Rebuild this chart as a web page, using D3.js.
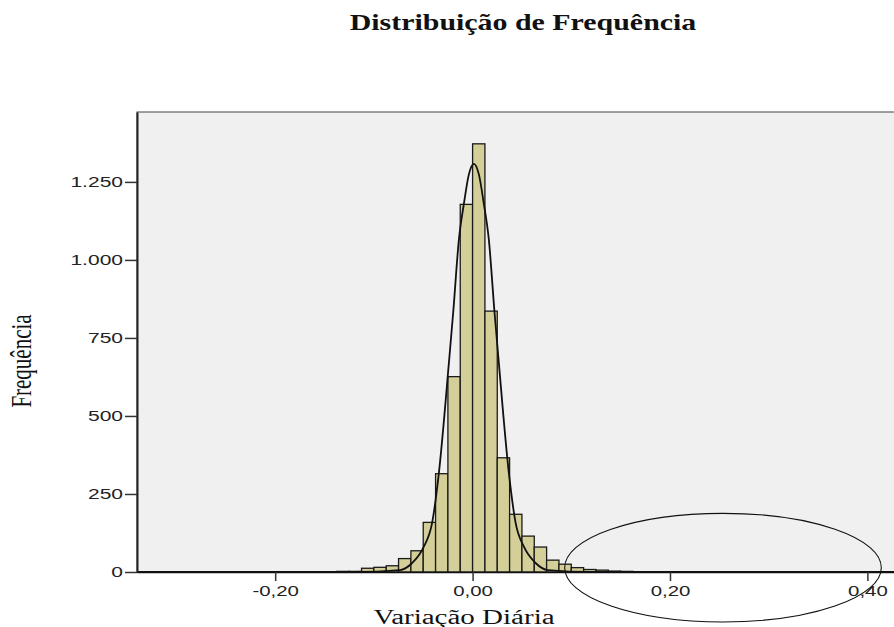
<!DOCTYPE html>
<html>
<head>
<meta charset="utf-8">
<script src="https://cdn.jsdelivr.net/npm/d3@7"></script>
<style>
  body { margin: 0; background: #fff; }
  .tick text { font-family: "Liberation Sans", Arial, sans-serif; font-size: 15px; fill: #222; }
</style>
</head>
<body>
<svg class="chart"></svg>
<script>
// histogram bins (lower edge) and counts
var binLower = [-0.2625, -0.2375, -0.175, -0.1625, -0.1375, -0.125, -0.1125, -0.1, -0.0875, -0.075,
                -0.0625, -0.05, -0.0375, -0.025, -0.0125, 0, 0.0125, 0.025, 0.0375, 0.05,
                0.0625, 0.075, 0.0875, 0.1, 0.1125, 0.125, 0.1375, 0.15, 0.1625, 0.175,
                0.225, 0.2375, 0.2875, 0.3];
var binCounts = [1, 1, 1, 1, 2, 2, 12, 15, 20, 43,
                 68, 159, 315, 626, 1178, 1372, 836, 366, 185, 115,
                 80, 38, 25, 14, 8, 6, 3, 2, 1, 1,
                 1, 1, 1, 1];
var binWidth = 0.0125;

// fitted normal curve
var curveX = [-0.34, -0.12, -0.0737, -0.0615, -0.0494, -0.0409, -0.0342, -0.024, -0.0195, -0.0139, -0.0088, -0.0037,
              0.0013, 0.0063, 0.0114, 0.0165, 0.0221, 0.0266, 0.0368, 0.0435, 0.052, 0.0641, 0.0763, 0.12, 0.43];
var curveY = [0, 0, 6, 28, 81, 159, 316, 670, 837, 1064, 1180, 1275,
              1308, 1275, 1180, 1064, 837, 670, 316, 159, 81, 28, 6, 0, 0];

var yTicks = [0, 250, 500, 750, 1000, 1250];
var yTickLabels = ["0", "250", "500", "750", "1.000", "1.250"];
var xTicks = [-0.2, 0, 0.2, 0.4];
var xTickLabels = ["-0,20", "0,00", "0,20", "0,40"];

// highlighted region (ellipse), in data units
var markCenter = [0.2537, 14];
var markRadius = [0.1604, 174];

var margin = {top: 112, left: 137},
    width = 760,
    height = 460;

var stretch = function(sel, k) {
  sel.each(function() {
    var w = this.getComputedTextLength();
    d3.select(this).attr("textLength", w * k).attr("lengthAdjust", "spacingAndGlyphs");
  });
};

var svg = d3.select(".chart")
    .attr("width", 894)
    .attr("height", 627);

var x = d3.scaleLinear().domain([-0.34, 0.43]).range([0, width]);
var y = d3.scaleLinear().domain([0, 1474]).range([height, 0]);

var chart = svg.append("g")
    .attr("transform", "translate(" + margin.left + "," + margin.top + ")");

chart.append("rect")
    .attr("width", width)
    .attr("height", height)
    .style("fill", "#f0f0f0")
    .style("stroke", "#444")
    .style("stroke-width", 1);

var bins = binLower.map(function(d, i) { return {x0: d, x1: d + binWidth, n: binCounts[i]}; });

chart.selectAll(".bar")
    .data(bins)
    .enter()
    .append("rect")
    .attr("class", "bar")
    .attr("x", function(d) { return x(d.x0); })
    .attr("y", function(d) { return y(d.n); })
    .attr("width", function(d) { return x(d.x1) - x(d.x0); })
    .attr("height", function(d) { return y(0) - y(d.n); })
    .style("fill", "#d4cf98")
    .style("stroke", "#1a1a1a")
    .style("stroke-width", 1.3);

var line = d3.line()
    .x(function(d) { return x(d[0]); })
    .y(function(d) { return y(d[1]); })
    .curve(d3.curveMonotoneX);

chart.append("path")
    .datum(curveX.map(function(d, i) { return [d, curveY[i]]; }))
    .attr("d", line)
    .style("fill", "none")
    .style("stroke", "#111")
    .style("stroke-width", 1.8);

var xAxis = d3.axisBottom(x)
    .tickValues(xTicks)
    .tickFormat(function(d, i) { return xTickLabels[i]; })
    .tickSize(9)
    .tickSizeOuter(0)
    .tickPadding(4);

var yAxis = d3.axisLeft(y)
    .tickValues(yTicks)
    .tickFormat(function(d, i) { return yTickLabels[i]; })
    .tickSize(12)
    .tickSizeOuter(0)
    .tickPadding(2);

var xAxisG = chart.append("g")
    .attr("class", "x axis")
    .attr("transform", "translate(0," + height + ")")
    .call(xAxis);
xAxisG.select(".domain").style("stroke", "#111").style("stroke-width", 1.5);
xAxisG.selectAll(".tick line").style("stroke", "#333").style("stroke-width", 1.5);
xAxisG.selectAll("text").call(stretch, 1.36);

var yAxisG = chart.append("g")
    .attr("class", "y axis")
    .call(yAxis);
yAxisG.select(".domain").style("stroke", "#222").style("stroke-width", 2);
yAxisG.selectAll(".tick line").style("stroke", "#333").style("stroke-width", 1.5);
yAxisG.selectAll("text").call(stretch, 1.4);

chart.append("ellipse")
    .attr("cx", x(markCenter[0]))
    .attr("cy", y(markCenter[1]))
    .attr("rx", x(markRadius[0]) - x(0))
    .attr("ry", y(0) - y(markRadius[1]))
    .style("fill", "none")
    .style("stroke", "#111")
    .style("stroke-width", 1.1);

svg.append("text")
    .attr("x", 523)
    .attr("y", 30)
    .attr("text-anchor", "middle")
    .style("font-family", "'Liberation Serif', 'Times New Roman', serif")
    .style("font-weight", "bold")
    .style("font-size", "23px")
    .style("fill", "#111")
    .text("Distribuição de Frequência")
    .call(stretch, 1.3);

svg.append("text")
    .attr("x", 464)
    .attr("y", 624)
    .attr("text-anchor", "middle")
    .style("font-family", "'Liberation Serif', 'Times New Roman', serif")
    .style("font-size", "20px")
    .style("fill", "#111")
    .text("Variação Diária")
    .call(stretch, 1.45);

svg.append("text")
    .attr("transform", "translate(31,361) scale(1.4,1) rotate(-90)")
    .attr("text-anchor", "middle")
    .style("font-family", "'Liberation Serif', 'Times New Roman', serif")
    .style("font-size", "21px")
    .style("fill", "#111")
    .text("Frequência");
</script>
</body>
</html>
